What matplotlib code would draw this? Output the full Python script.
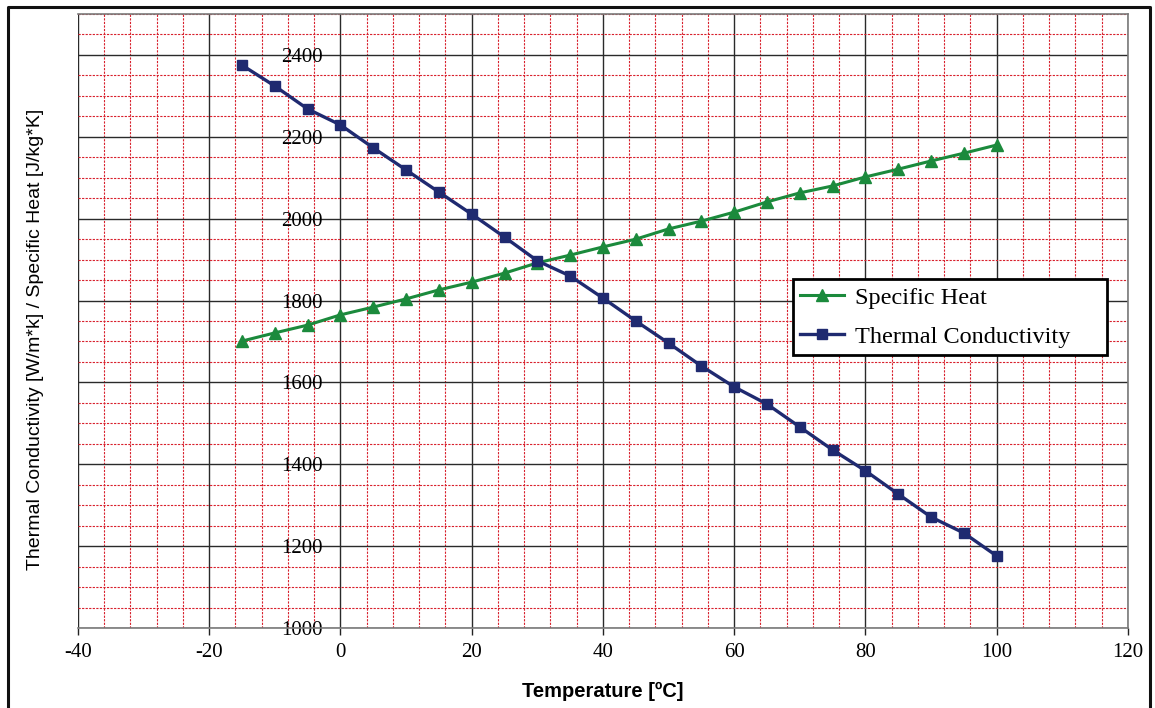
import matplotlib
matplotlib.use("Agg")
import matplotlib.pyplot as plt
from matplotlib.lines import Line2D
from matplotlib.ticker import MultipleLocator

# values
temperature = [-15, -10, -5, 0, 5, 10, 15, 20, 25, 30, 35, 40,
               45, 50, 55, 60, 65, 70, 75, 80, 85, 90, 95, 100]
specific_heat = [1701, 1721, 1740, 1765, 1784, 1804, 1826, 1845, 1867, 1892, 1911, 1931,
                 1950, 1975, 1994, 2016, 2041, 2063, 2080, 2102, 2121, 2141, 2160, 2180]
thermal_conductivity = [2375, 2324, 2268, 2229, 2173, 2119, 2065, 2011, 1955, 1897, 1860, 1806,
                        1750, 1696, 1640, 1589, 1547, 1491, 1435, 1384, 1327, 1271, 1232, 1176]

SERIF = ["Liberation Serif", "DejaVu Serif"]
SANS = ["Liberation Sans", "DejaVu Sans"]

plt.rcParams["axes.unicode_minus"] = False

fig = plt.figure(figsize=(11.55, 7.08), dpi=100)
ax = fig.add_axes([0.0675, 0.1130, 0.9091, 0.8672])

ax.set_xlim(-40, 120)
ax.set_ylim(1000, 2500)
ax.xaxis.set_major_locator(MultipleLocator(20))
ax.xaxis.set_minor_locator(MultipleLocator(4))
ax.yaxis.set_major_locator(MultipleLocator(200))
ax.yaxis.set_minor_locator(MultipleLocator(50))
ax.set_yticks(range(1000, 2401, 200))

ax.grid(which="minor", color="#d8202c", linestyle=(0, (2.0, 1.2)), linewidth=0.8)
ax.grid(which="major", color="#2a2a2a", linestyle="-", linewidth=1.0)
ax.set_axisbelow(True)

for side in ("top", "right", "bottom"):
    ax.spines[side].set_color("#7a7a7a")
    ax.spines[side].set_linewidth(1.2)
ax.spines["left"].set_position(("data", 0))
ax.spines["left"].set_visible(False)

ax.tick_params(axis="x", which="major", direction="out", length=5, width=1,
               color="#222222", pad=6, labelsize=15)
ax.tick_params(axis="y", which="major", length=0, pad=13, labelsize=15)
ax.tick_params(which="minor", length=0)
for lab in ax.get_xticklabels() + ax.get_yticklabels():
    lab.set_family(SERIF)

ax.plot(temperature, specific_heat, color="#1b8a3c", linewidth=2.2,
        marker="^", markersize=9, label="Specific Heat", zorder=3)
ax.plot(temperature, thermal_conductivity, color="#1f2a70", linewidth=2.4,
        marker="s", markersize=7, label="Thermal Conductivity", zorder=3)

ax.set_xlabel("Temperature [ºC]", family=SANS, fontsize=14.5, fontweight="bold", labelpad=14)
ax.set_ylabel("Thermal Conductivity [W/m*k] / Specific Heat [J/kg*K]",
              family=SANS, fontsize=14)
ax.yaxis.set_label_coords(-0.0326, 0.47)

leg = ax.legend(loc="upper left", bbox_to_anchor=(0.681, 0.453, 0.299, 0.115),
                mode="expand", borderaxespad=0,
                prop={"family": SERIF, "size": 17.5}, frameon=True, fancybox=False,
                framealpha=1, edgecolor="black", handlelength=1.8, handletextpad=0.45,
                borderpad=0.3, labelspacing=0.7)
leg.get_frame().set_linewidth(2)
# keep the frame at the reference box edges
leg.get_frame().set_bounds  # frame follows legend bbox

# outer border of the original figure (bottom edge is cut off)
fig.add_artist(Line2D([0.0065, 0.0065, 0.9958, 0.9958], [0.0, 0.990, 0.990, 0.0],
                      transform=fig.transFigure, color="#111111", linewidth=2.2))

fig.savefig("out.png", dpi=100)
